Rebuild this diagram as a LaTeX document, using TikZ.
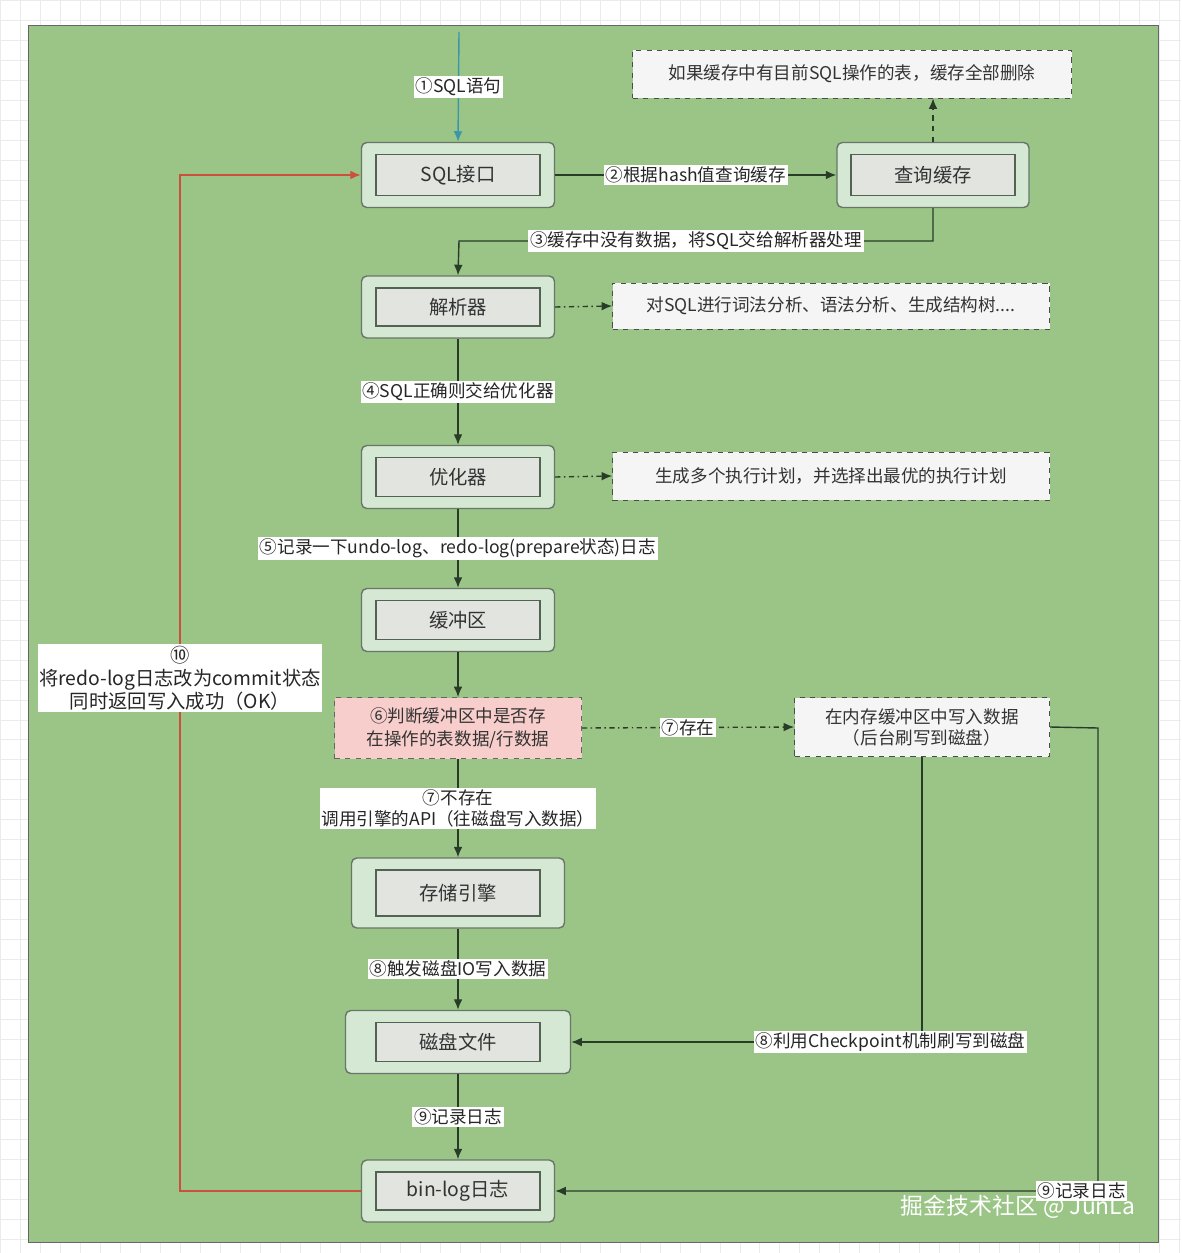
\documentclass[tikz,border=0pt]{standalone}
\usepackage{fontspec}
\setmainfont{Noto Sans CJK SC}
\usetikzlibrary{arrows.meta}
\definecolor{bggreen}{RGB}{155,197,135}
\definecolor{boxg}{RGB}{213,232,212}
\definecolor{innerg}{RGB}{226,228,224}
\definecolor{pinkf}{RGB}{248,206,204}
\definecolor{notef}{RGB}{245,245,245}
\definecolor{edge}{RGB}{40,60,40}
\definecolor{redl}{RGB}{205,80,60}
\definecolor{teal}{RGB}{60,150,170}
\tikzset{x=0.02cm,y=-0.02cm,
 outer/.style={draw=edge!70,fill=boxg,rounded corners=3pt,line width=0.8pt},
 inner/.style={draw=edge!80,fill=innerg,line width=0.8pt,font=\fontsize{11}{13}\selectfont,text=black!80},
 note/.style={draw=black!70,dashed,fill=notef,font=\fontsize{10}{12}\selectfont,text=black!80},
 lab/.style={fill=white,inner sep=1pt,font=\fontsize{10}{12}\selectfont,text=black!85,align=center},
 con/.style={draw=edge,line width=0.8pt,-{Latex[length=6pt,width=5pt]}},
 dd/.style={con,dash dot}}
\begin{document}
\begin{tikzpicture}
\useasboundingbox (0,0) rectangle (1181,1253);
\fill[white] (0,0) rectangle (1181,1253);
\draw[black!8,step=0.4cm] (0,0) grid (1181,1253);
\draw[fill=bggreen,draw=black!60] (28,25) rectangle (1158,1242);
% boxes
\newcommand{\bx}[6]{\node[outer,minimum width=#4*0.02cm,minimum height=#5*0.02cm] (#1o) at (#2,#3) {};
 \node[inner,minimum width=164*0.02cm,minimum height=(#5-24)*0.02cm] (#1) at (#2,#3) {#6};}
\bx{sql}{458}{175}{193}{65}{SQL接口}
\bx{cache}{933}{175}{192}{65}{查询缓存}
\bx{parse}{458}{307}{193}{62}{解析器}
\bx{opt}{458}{477}{193}{63}{优化器}
\bx{buf}{458}{620}{193}{63}{缓冲区}
\bx{eng}{458}{893}{213}{70}{存储引擎}
\bx{disk}{458}{1042}{225}{63}{磁盘文件}
\bx{bin}{458}{1191}{193}{62}{bin-log日志}
\node[draw=black!60,dashed,fill=pinkf,minimum width=247*0.02cm,minimum height=61*0.02cm,align=center,font=\fontsize{10}{13}\selectfont,text=black!80] (judge) at (458,728) {⑥判断缓冲区中是否存\\在操作的表数据/行数据};
\node[note,minimum width=439*0.02cm,minimum height=48*0.02cm] (n1) at (852,74) {如果缓存中有目前SQL操作的表，缓存全部删除};
\node[note,minimum width=437*0.02cm,minimum height=46*0.02cm] (n2) at (831,306) {对SQL进行词法分析、语法分析、生成结构树....};
\node[note,minimum width=437*0.02cm,minimum height=48*0.02cm] (n3) at (831,476) {生成多个执行计划，并选择出最优的执行计划};
\node[note,minimum width=255*0.02cm,minimum height=59*0.02cm,align=center] (mem) at (922,727) {在内存缓冲区中写入数据\\（后台刷写到磁盘）};
\coordinate (top) at (459,32);
% connectors
\draw[con,draw=teal] (top) -- node[lab]{①SQL语句} (sqlo.north);
\draw[con] (sqlo.east) -- node[lab]{②根据hash值查询缓存} (cacheo.west);
\draw[con,dashed] (cacheo.north) -- (cacheo.north |- n1.south);
\draw[con] (cacheo.south) -- (933,241) -- node[lab]{③缓存中没有数据，将SQL交给解析器处理} (459,241) -- (parseo.north);
\draw[dd] (parseo.east) -- (n2.west);
\draw[con] (parseo.south) -- node[lab]{④SQL正确则交给优化器} (opto.north);
\draw[dd] (opto.east) -- (n3.west);
\draw[con] (opto.south) -- node[lab]{⑤记录一下undo-log、redo-log(prepare状态)日志} (bufo.north);
\draw[con] (bufo.south) -- (judge.north);
\draw[dd] (judge.east) -- node[lab]{⑦存在} (mem.west);
\draw[con] (judge.south) -- node[lab]{⑦不存在\\调用引擎的API（往磁盘写入数据）} (engo.north);
\draw[con] (engo.south) -- node[lab]{⑧触发磁盘IO写入数据} (disko.north);
\draw[con] (mem.south) -- (922,1042) -- node[lab,pos=0.09]{⑧利用Checkpoint机制刷写到磁盘} (disko.east);
\draw[con] (disko.south) -- node[lab]{⑨记录日志} (bino.north);
\draw[con] (mem.east) -- (1098,728) -- (1098,1191) -- node[lab,pos=0.03]{⑨记录日志} (bino.east);
\draw[con,draw=redl] (bino.west) -- (180,1191) -- node[lab,pos=0.505,font=\fontsize{11}{13}\selectfont]{⑩\\将redo-log日志改为commit状态\\同时返回写入成功（OK）} (180,175) -- (sqlo.west);
\node[text=white,font=\fontsize{13}{15}\selectfont] (wm) at (1018,1207) {掘金技术社区 @ JunLa};
\end{tikzpicture}
\end{document}
